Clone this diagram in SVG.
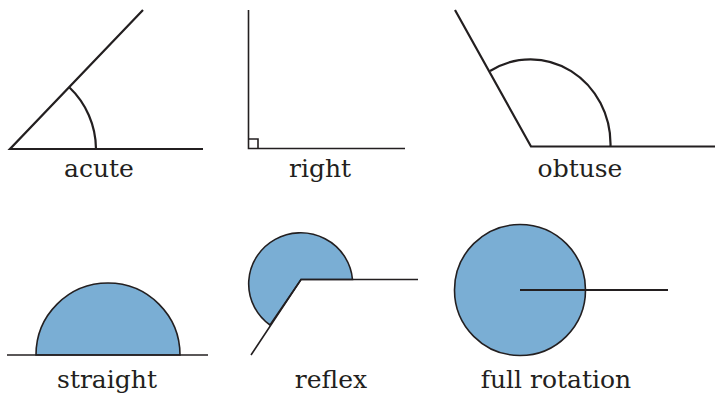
<svg xmlns="http://www.w3.org/2000/svg" width="715" height="394" viewBox="0 0 715 394">
<style>
.ln{fill:none;stroke:#231f20;stroke-width:2.2;stroke-linecap:butt}
.th{fill:none;stroke:#231f20;stroke-width:1.6}
.sh{fill:#7aaed4;stroke:#231f20;stroke-width:1.6}
.lb{font-family:"DejaVu Serif","Liberation Serif",serif;font-size:25px;fill:#231f20;text-anchor:middle}
</style>
<rect width="715" height="394" fill="#ffffff"/>
<g id="acute">
<path class="ln" d="M203 149 L10 149 L143 10"/>
<path class="ln" d="M69 87 A86 86 0 0 1 96 149"/>
<text class="lb" x="99" y="177">acute</text>
</g>
<g id="right">
<path class="th" d="M248.5 10 L248.5 148.5 L405 148.5"/>
<path class="th" d="M248.5 139 L258 139 L258 148.5"/>
<text class="lb" x="320" y="177">right</text>
</g>
<g id="obtuse">
<path class="ln" d="M715 146.5 L531 146.5 L455 10"/>
<path class="ln" d="M490 71 A80 85 0 0 1 610.5 146.5"/>
<text class="lb" x="580" y="177">obtuse</text>
</g>
<g id="straight">
<path class="sh" d="M36 355 A72 72 0 0 1 180 355 Z"/>
<path class="th" d="M7 355 L208 355"/>
<text class="lb" x="107" y="388">straight</text>
</g>
<g id="reflex">
<path class="sh" d="M301 279.5 L352.5 279.5 A52 51 0 1 0 270 325 Z"/>
<path class="th" d="M418 279.5 L301 279.5 L251 355"/>
<text class="lb" x="331" y="388">reflex</text>
</g>
<g id="full-rotation">
<circle class="sh" cx="520" cy="290" r="65.5"/>
<path class="ln" d="M520 290 L668 290" style="stroke-width:1.8"/>
<text class="lb" x="556" y="388">full rotation</text>
</g>
</svg>
